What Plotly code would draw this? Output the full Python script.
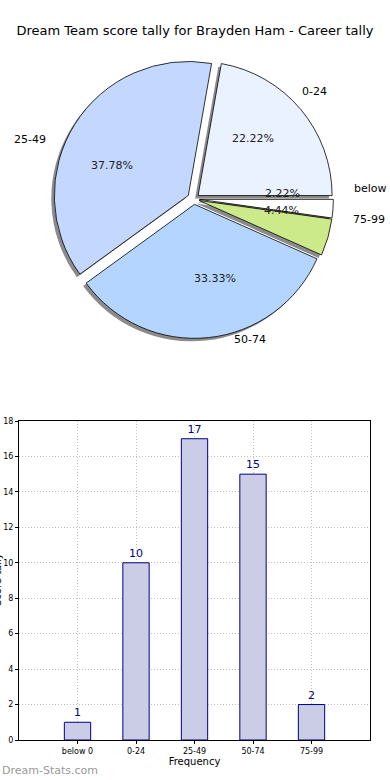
import math
import plotly.graph_objects as go

categories = ["below 0", "0-24", "25-49", "50-74", "75-99"]
counts = [1, 10, 17, 15, 2]
pie_colors = ["#ffffff", "#eaf1ff", "#c4d8ff", "#b4d5ff", "#ccea8a"]
pulls = [0.04, 0.04, 0.05, 0.04, 0.04]
y_ticks = [0, 2, 4, 6, 8, 10, 12, 14, 16, 18]

W, H = 390, 780
cx, cy, r = 194, 199, 134
fx, fy = 1.035, 0.95  # the reference pie is slightly wider than tall
box = r * 2 * (1 + max(pulls))

def dom(cx, cy, box):
    return dict(x=[(cx - box / 2) / W, (cx + box / 2) / W],
                y=[1 - (cy + box / 2) / H, 1 - (cy - box / 2) / H])

fig = go.Figure()

# shadow
fig.add_trace(go.Pie(
    labels=categories, values=counts, sort=False, direction="counterclockwise",
    rotation=90, pull=pulls, domain=dom(cx - 3, cy + 3, box),
    marker=dict(colors=["rgba(110,110,110,0.8)"] * 5, line=dict(width=0)),
    textinfo="none", hoverinfo="skip", showlegend=False))

# main pie
fig.add_trace(go.Pie(
    labels=categories, values=counts, sort=False, direction="counterclockwise",
    rotation=90, pull=pulls, domain=dom(cx, cy, box),
    marker=dict(colors=pie_colors, line=dict(color="#000000", width=0.8)),
    textinfo="none", showlegend=False))

# text for pie: percentages at 0.6 r, labels at 1.1 r (from the data's angles)
annotations = []
total = sum(counts)
start = 0.0
for lab, v, p in zip(categories, counts, pulls):
    frac = v / total
    mid = math.radians((start + frac / 2) * 360)
    start += frac
    c, s = math.cos(mid), math.sin(mid)
    pr = (p + 0.6) * r
    annotations.append(dict(
        text=f"{frac * 100:.2f}%", x=(cx + fx * pr * c) / W, y=1 - (cy - fy * pr * s) / H,
        xref="paper", yref="paper", showarrow=False, xanchor="center", yanchor="middle",
        font=dict(size=11, color="#222222")))
    lr = (p + 1.1) * r
    annotations.append(dict(
        text=lab, x=(cx + fx * lr * c) / W, y=1 - (cy - fy * lr * s) / H,
        xref="paper", yref="paper", showarrow=False,
        xanchor="left" if c > 0 else "right", yanchor="middle",
        font=dict(size=11, color="#000000")))

# bar chart
fig.add_trace(go.Bar(
    x=categories, y=counts, width=0.45,
    marker=dict(color="#cbcce6", line=dict(color="#00007f", width=1)),
    text=[str(c) for c in counts], textposition="outside",
    textfont=dict(family="DejaVu Sans", size=11, color="#00007f"),
    cliponaxis=False, showlegend=False, xaxis="x", yaxis="y"))

annotations += [
    dict(text="Score tally", x=-3 / W, y=1 - 580 / H, xref="paper", yref="paper",
         textangle=-90, showarrow=False, xanchor="center", yanchor="middle",
         font=dict(size=10, color="#000000")),
    dict(text="Dream-Stats.com", x=0, y=1 - 770 / H, xref="paper", yref="paper",
         showarrow=False, xanchor="left", yanchor="middle",
         font=dict(size=11, color="#999999", family="DejaVu Sans")),
]

fig.update_layout(
    width=W, height=H, margin=dict(l=0, r=0, t=0, b=0, autoexpand=False),
    paper_bgcolor="white", plot_bgcolor="white",
    font=dict(family="DejaVu Sans", color="#000000"),
    title=dict(text="Dream Team score tally for Brayden Ham - Career tally",
               x=195 / W, xref="paper", xanchor="center", y=1 - 30 / H, yanchor="middle",
               font=dict(size=13, color="#000000")),
    xaxis=dict(domain=[19 / W, 370 / W], range=[-1, 5], type="category",
               automargin=False,
               showgrid=True, gridcolor="#c0c0c0", griddash="1px,2px", gridwidth=1,
               showline=True, linecolor="#000000", linewidth=1, mirror=True,
               ticks="outside", ticklen=3, tickcolor="#000000",
               tickfont=dict(size=8), zeroline=False,
               title=dict(text="Frequency", font=dict(size=10), standoff=2)),
    yaxis=dict(domain=[1 - 740 / H, 1 - 421 / H], range=[0, 18], automargin=False,
               tickvals=y_ticks, showgrid=True, gridcolor="#c0c0c0",
               griddash="1px,2px", gridwidth=1,
               showline=True, linecolor="#000000", linewidth=1, mirror=True,
               ticks="outside", ticklen=3, tickcolor="#000000",
               tickfont=dict(size=8), zeroline=False),
    annotations=annotations,
)

fig.write_html(
    "out.html",
    config={"displayModeBar": False},
    post_script="document.body.style.margin='0';document.body.style.overflow='hidden';",
)
